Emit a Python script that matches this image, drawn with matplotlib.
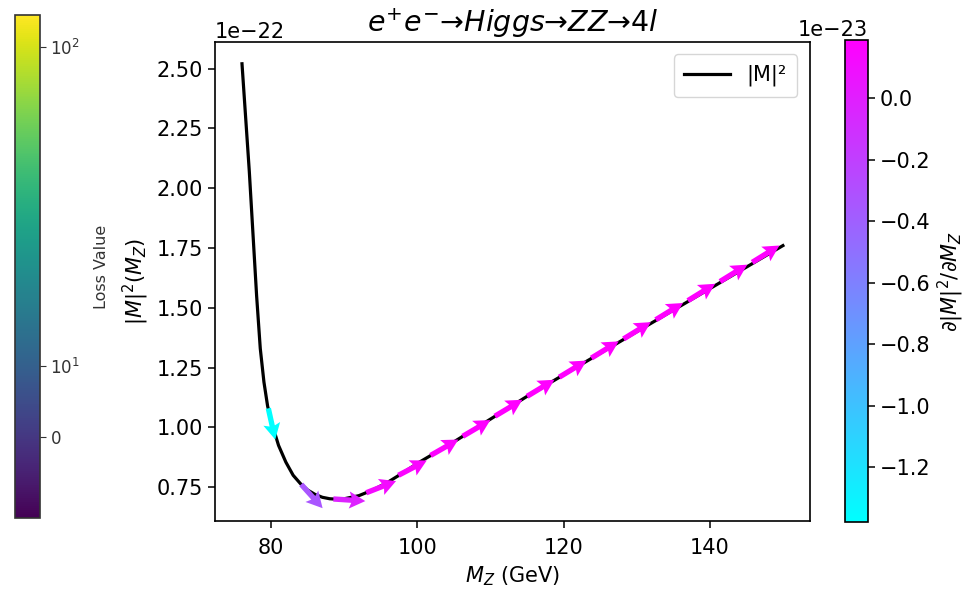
import numpy as np
import matplotlib
matplotlib.use("Agg")
import matplotlib.pyplot as plt
from matplotlib.colors import SymLogNorm, Normalize
from matplotlib.cm import ScalarMappable

# ---- data ----
mz = [76, 77, 78, 78.5, 79, 79.5, 80, 81, 82, 83, 84, 85, 86, 87, 88, 89, 90,
      92, 94, 96, 98, 100, 105, 110, 115, 120, 125, 130, 135, 140, 145, 150]
m2 = [2.52, 2.07, 1.55, 1.33, 1.19, 1.09, 1.025, 0.925, 0.855, 0.80, 0.765,
      0.738, 0.72, 0.708, 0.702, 0.700, 0.702,
      0.715, 0.74, 0.772, 0.81, 0.85, 0.94, 1.035, 1.13, 1.22, 1.31, 1.40,
      1.49, 1.58, 1.67, 1.76]  # x 1e-22

arrow_x = [79.6, 84.1, 88.5, 93.0, 97.4, 101.8, 106.2, 110.6, 115.0, 119.4,
           123.8, 128.2, 132.6, 137.0, 141.4, 145.8]
arrow_y = [1.08, 0.762, 0.701, 0.727, 0.80, 0.883, 0.963, 1.047, 1.13, 1.21,
           1.29, 1.37, 1.45, 1.53, 1.61, 1.69]  # x 1e-22
arrow_grad = [-1.379, -0.34, -0.02, 0.12, 0.16, 0.175, 0.18, 0.183, 0.185,
              0.186, 0.187, 0.188, 0.188, 0.189, 0.189, 0.189]  # x 1e-23

loss_ticks = [0, 10, 100]
loss_ticklabels = [r'$\mathdefault{0}$', r'$\mathdefault{10^{1}}$', r'$\mathdefault{10^{2}}$']

# ---- scale to physical units ----
mz_a = np.array(mz)
m2_a = np.array(m2) * 1e-22
ax_x = np.array(arrow_x)
ax_y = np.array(arrow_y) * 1e-22
grad = np.array(arrow_grad) * 1e-23

FS = 15
plt.rcParams['font.size'] = FS

fig = plt.figure(figsize=(9.7, 5.94), dpi=100)
ax = fig.add_axes([0.2216, 0.1229, 0.6134, 0.8064])
cax_r = fig.add_axes([0.8711, 0.1212, 0.0237, 0.8114])
cax_l = fig.add_axes([0.0155, 0.128, 0.0258, 0.8468])

ax.plot(mz_a, m2_a, color='black', lw=2.3, label='|M|²', zorder=2)

norm_g = Normalize(vmin=grad.min(), vmax=grad.max())
U = np.ones_like(ax_x)
V = grad
q = ax.quiver(ax_x, ax_y, U, V, grad, cmap='cool', norm=norm_g,
              angles='xy', scale_units='inches', scale=1 / 0.32,
              width=0.009, headwidth=3.2, headlength=3.0, headaxislength=2.6,
              zorder=3)

ax.set_xticks([80, 100, 120, 140])
ax.set_yticks(np.array([0.75, 1.0, 1.25, 1.5, 1.75, 2.0, 2.25, 2.5]) * 1e-22)
ax.set_xlabel(r'$M_Z$ (GeV)', fontsize=FS, labelpad=5)
ax.set_ylabel(r'$|M|^2(M_Z)$', fontsize=FS)
ax.set_title(r'$e^{+}e^{-}$→$Higgs$→$ZZ$→$4l$', fontsize=20.5, pad=7)
ax.tick_params(labelsize=FS, length=5, width=1.1)
ax.tick_params(axis='x', pad=7)
ax.yaxis.get_offset_text().set_fontsize(FS)
for s in ax.spines.values():
    s.set_linewidth(1.2)
ax.legend(loc='upper right', fontsize=FS, handlelength=2.2, borderaxespad=0.6,
          borderpad=0.5)

cb = fig.colorbar(q, cax=cax_r)
cb.set_label(r'$\partial|M|^2/\partial M_Z$', fontsize=FS)
cb.ax.tick_params(labelsize=FS, length=5, width=1.1)
cb.ax.yaxis.get_offset_text().set_fontsize(FS)
cb.outline.set_linewidth(1.2)

norm_l = SymLogNorm(linthresh=10, linscale=0.2, vmin=-10.75, vmax=126, base=10)
sm = ScalarMappable(norm=norm_l, cmap='viridis')
cbl = fig.colorbar(sm, cax=cax_l)
cbl.set_ticks(loss_ticks)
cbl.set_ticklabels(loss_ticklabels)
cbl.ax.minorticks_off()
cbl.ax.tick_params(labelsize=12, length=4, labelcolor='#333333', color='#333333')
cbl.set_label('Loss Value', fontsize=11.5, color='#333333', labelpad=10)
cbl.outline.set_linewidth(1.2)
cbl.outline.set_edgecolor('#333333')

fig.savefig('out.png', dpi=100)
